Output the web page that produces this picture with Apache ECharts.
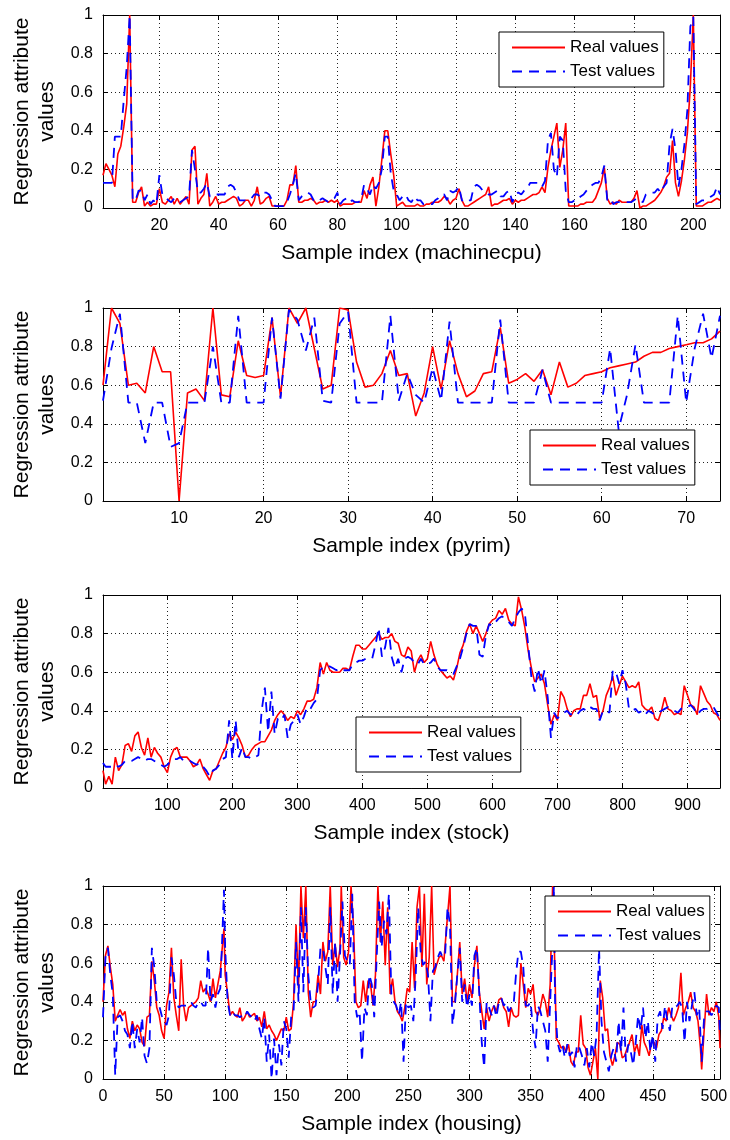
<!DOCTYPE html>
<html>
<head>
<meta charset="utf-8">
<script src="https://cdn.jsdelivr.net/npm/echarts@6/dist/echarts.min.js"></script>
<style>
html,body{margin:0;padding:0;background:#fff;}
#chart{width:730px;height:1140px;}
</style>
</head>
<body>
<div id="chart"></div>
<script>
// ---------- DATA ----------
const seriesNames = ['Real values', 'Test values'];
const panelTitles = ['Sample index (machinecpu)', 'Sample index (pyrim)', 'Sample index (stock)', 'Sample index (housing)'];
const yTitle = 'Regression attribute\nvalues';

// machinecpu (samples 1..209)
const machineReal = [
0.17,0.23,0.20,0.17,0.11,0.28,0.32,0.42,0.54,1.00,
0.03,0.03,0.08,0.11,0.01,0.03,0.01,0.02,0.02,0.10,
0.03,0.02,0.04,0.06,0.02,0.05,0.02,0.04,0.06,0.02,
0.30,0.32,0.02,0.05,0.07,0.18,0.01,0.03,0.06,0.02,
0.03,0.03,0.04,0.05,0.06,0.05,0.01,0.02,0.04,0.04,
0.01,0.04,0.11,0.02,0.03,0.05,0.06,0.01,0.01,0.01,
0.01,0.01,0.04,0.12,0.12,0.22,0.03,0.03,0.04,0.04,
0.05,0.04,0.02,0.03,0.03,0.04,0.03,0.04,0.03,0.04,
0.01,0.02,0.02,0.02,0.02,0.03,0.03,0.03,0.09,0.05,
0.12,0.16,0.01,0.11,0.25,0.40,0.40,0.28,0.17,0.01,
0.02,0.03,0.01,0.01,0.01,0.01,0.02,0.01,0.01,0.02,
0.02,0.03,0.03,0.03,0.04,0.06,0.05,0.02,0.04,0.05,
0.10,0.04,0.01,0.01,0.02,0.03,0.04,0.05,0.06,0.07,
0.11,0.01,0.02,0.02,0.03,0.04,0.04,0.05,0.02,0.04,
0.03,0.04,0.04,0.05,0.06,0.07,0.07,0.08,0.11,0.08,
0.21,0.30,0.37,0.44,0.21,0.30,0.44,0.01,0.01,0.01,
0.01,0.02,0.02,0.03,0.03,0.03,0.05,0.09,0.13,0.21,
0.05,0.02,0.03,0.02,0.04,0.03,0.03,0.03,0.03,0.05,
0.09,0.00,0.01,0.01,0.02,0.03,0.04,0.06,0.08,0.11,
0.16,0.18,0.35,0.13,0.06,0.14,0.25,0.39,0.63,1.00,
0.01,0.01,0.01,0.02,0.03,0.03,0.04,0.05,0.04
];
const machineTest = [
0.13,0.13,0.13,0.13,0.37,0.37,0.37,0.56,0.73,1.00,
0.04,0.04,0.09,0.09,0.04,0.07,0.02,0.04,0.02,0.17,
0.07,0.06,0.04,0.03,0.05,0.04,0.03,0.04,0.05,0.06,
0.30,0.20,0.08,0.08,0.10,0.13,0.06,0.07,0.07,0.07,
0.07,0.07,0.11,0.12,0.11,0.08,0.04,0.04,0.04,0.04,
0.05,0.07,0.07,0.06,0.08,0.08,0.07,0.04,0.01,0.01,
0.01,0.01,0.03,0.07,0.12,0.18,0.04,0.06,0.07,0.08,
0.07,0.04,0.03,0.04,0.05,0.04,0.03,0.04,0.05,0.08,
0.02,0.04,0.05,0.03,0.04,0.03,0.03,0.04,0.12,0.10,
0.07,0.12,0.10,0.13,0.20,0.37,0.37,0.18,0.09,0.07,
0.04,0.06,0.07,0.04,0.03,0.06,0.04,0.04,0.02,0.02,
0.02,0.02,0.04,0.05,0.07,0.07,0.04,0.09,0.08,0.09,
0.11,0.04,0.03,0.04,0.04,0.11,0.12,0.11,0.09,0.08,
0.07,0.07,0.08,0.09,0.06,0.06,0.08,0.09,0.03,0.07,
0.08,0.07,0.09,0.10,0.13,0.13,0.13,0.13,0.11,0.14,
0.35,0.39,0.20,0.16,0.37,0.35,0.09,0.03,0.03,0.04,
0.04,0.06,0.07,0.09,0.11,0.12,0.13,0.13,0.16,0.22,
0.04,0.05,0.02,0.03,0.03,0.03,0.03,0.03,0.03,0.04,
0.05,0.04,0.03,0.07,0.08,0.08,0.08,0.10,0.08,0.11,
0.13,0.33,0.41,0.30,0.11,0.20,0.33,0.51,0.94,0.99,
0.02,0.03,0.04,0.04,0.05,0.06,0.07,0.11,0.07
];

// pyrim (samples 1..74)
const pyrimReal = [
0.60,1.00,0.92,0.60,0.61,0.56,0.80,0.67,0.67,0.00,
0.56,0.58,0.52,1.00,0.55,0.54,0.83,0.65,0.64,0.65,
0.95,0.54,1.00,0.92,1.00,0.79,0.58,0.60,1.00,0.99,
0.72,0.59,0.60,0.66,0.78,0.65,0.66,0.44,0.56,0.80,
0.58,0.83,0.66,0.54,0.57,0.66,0.67,0.90,0.61,0.63,
0.66,0.62,0.68,0.55,0.72,0.59,0.61,0.65,0.66,0.67,
0.69,0.70,0.71,0.72,0.75,0.77,0.77,0.79,0.80,0.81,
0.82,0.82,0.84,0.88
];
const pyrimTest = [
0.52,0.79,0.97,0.51,0.51,0.30,0.51,0.51,0.28,0.30,
0.51,0.51,0.51,0.80,0.51,0.51,0.96,0.51,0.51,0.51,
0.95,0.53,0.99,0.94,0.78,0.95,0.52,0.51,0.92,0.98,
0.51,0.51,0.51,0.51,0.96,0.52,0.66,0.55,0.51,0.69,
0.52,0.93,0.51,0.51,0.51,0.51,0.51,0.94,0.51,0.51,
0.51,0.51,0.68,0.51,0.51,0.51,0.51,0.51,0.51,0.51,
0.79,0.37,0.55,0.81,0.51,0.51,0.51,0.51,0.96,0.51,
0.79,0.97,0.74,0.96
];

// stock (read at samples 1, 5, 10, ..., 950)
const stockReal = [
0.09,
0.02,0.06,0.02,0.16,0.09,0.12,0.22,0.23,0.19,0.27,
0.29,0.21,0.17,0.26,0.16,0.21,0.18,0.16,0.11,0.08,
0.16,0.20,0.21,0.16,0.16,0.16,0.14,0.11,0.12,0.15,
0.10,0.07,0.04,0.09,0.10,0.14,0.18,0.21,0.28,0.25,
0.29,0.26,0.22,0.16,0.17,0.20,0.22,0.23,0.24,0.24,
0.27,0.30,0.35,0.38,0.40,0.38,0.35,0.37,0.36,0.40,
0.38,0.41,0.45,0.45,0.46,0.52,0.65,0.59,0.65,0.61,
0.60,0.60,0.60,0.62,0.62,0.61,0.68,0.74,0.74,0.72,
0.72,0.74,0.76,0.78,0.80,0.77,0.78,0.78,0.80,0.76,
0.75,0.69,0.68,0.73,0.71,0.60,0.66,0.69,0.65,0.67,
0.76,0.69,0.64,0.61,0.59,0.57,0.58,0.56,0.62,0.70,
0.74,0.81,0.85,0.80,0.84,0.80,0.76,0.80,0.85,0.87,
0.88,0.92,0.90,0.93,0.87,0.85,0.84,0.99,0.92,0.83,
0.71,0.62,0.55,0.57,0.59,0.54,0.43,0.33,0.38,0.35,
0.50,0.47,0.41,0.37,0.40,0.41,0.41,0.48,0.48,0.54,
0.47,0.48,0.36,0.40,0.48,0.52,0.58,0.48,0.53,0.58,
0.55,0.52,0.53,0.52,0.55,0.43,0.41,0.40,0.42,0.36,
0.35,0.40,0.47,0.41,0.40,0.38,0.39,0.38,0.53,0.48,
0.43,0.42,0.38,0.53,0.49,0.45,0.43,0.39,0.38,0.35
];
const stockTest = [
0.13,
0.11,0.11,0.11,0.12,0.11,0.12,0.14,0.14,0.14,0.15,
0.16,0.15,0.14,0.15,0.15,0.14,0.13,0.12,0.11,0.12,
0.14,0.15,0.15,0.16,0.14,0.14,0.14,0.13,0.12,0.13,
0.11,0.09,0.06,0.09,0.10,0.12,0.15,0.16,0.35,0.15,
0.35,0.16,0.21,0.16,0.16,0.15,0.16,0.17,0.40,0.52,
0.29,0.50,0.28,0.36,0.35,0.38,0.26,0.33,0.35,0.38,
0.33,0.37,0.42,0.41,0.44,0.46,0.61,0.63,0.63,0.63,
0.62,0.61,0.62,0.61,0.61,0.61,0.64,0.65,0.66,0.66,
0.67,0.67,0.67,0.74,0.83,0.68,0.73,0.83,0.68,0.62,
0.67,0.60,0.67,0.68,0.67,0.65,0.64,0.67,0.64,0.64,
0.65,0.67,0.63,0.61,0.61,0.61,0.60,0.59,0.63,0.67,
0.73,0.80,0.85,0.84,0.84,0.69,0.68,0.79,0.85,0.84,
0.86,0.88,0.89,0.87,0.86,0.84,0.88,0.91,0.93,0.90,
0.74,0.57,0.50,0.62,0.54,0.61,0.47,0.26,0.39,0.36,
0.38,0.39,0.40,0.38,0.39,0.38,0.40,0.41,0.40,0.42,
0.41,0.41,0.35,0.40,0.40,0.39,0.61,0.60,0.54,0.61,
0.54,0.41,0.40,0.41,0.39,0.40,0.38,0.40,0.39,0.38,
0.39,0.40,0.41,0.42,0.41,0.40,0.39,0.41,0.42,0.42,
0.43,0.41,0.38,0.40,0.41,0.41,0.42,0.42,0.39,0.36
];

// housing (sample indices listed in housingRealX / housingTestX)
const housingReal = [
0.40,0.64,0.69,0.58,0.49,0.30,0.33,0.36,0.33,0.35,
0.26,0.21,0.30,0.25,0.28,0.26,0.19,0.17,0.32,0.33,
0.61,0.51,0.37,0.33,0.25,0.21,0.38,0.45,0.68,0.42,
0.33,0.25,0.62,0.38,0.30,0.37,0.38,0.39,0.40,0.42,
0.51,0.45,0.47,0.44,0.40,0.52,0.42,0.49,0.56,0.71,
0.78,
0.54,0.44,0.33,0.35,0.33,0.32,0.37,0.30,0.32,0.35,
0.32,0.33,0.34,0.30,0.32,0.27,0.35,0.26,0.28,0.25,
0.23,0.20,0.23,0.26,0.25,0.32,0.25,0.26,0.40,0.80,
0.47,1.00,0.73,1.00,0.45,0.32,0.40,
0.40,0.54,0.44,0.71,0.61,0.66,1.00,0.59,0.70,0.58,0.68,
1.00,0.63,0.59,0.66,1.00,0.80,0.40,0.37,0.38,0.51,
0.40,0.51,0.49,0.38,0.54,1.00,0.71,0.92,0.59,0.89,
0.44,0.52,0.40,0.35,0.33,0.30,0.37,0.47,0.45,0.71,
0.47,0.89,1.00,0.58,0.96,0.49,0.63,1.00,0.54,0.59,
0.63,0.64,0.61,0.77,0.92,
1.00,
0.40,0.40,0.54,0.71,0.44,0.52,0.40,0.49,0.42,0.59,
0.69,0.45,0.35,0.26,0.37,0.30,0.35,0.38,0.35,0.41,
0.42,0.37,0.35,0.27,0.37,0.33,0.32,0.33,
0.60,0.49,0.37,0.47,0.44,0.49,0.35,0.33,0.37,0.44,
0.40,0.32,0.49,1.00,0.54,
0.21,0.19,0.16,0.17,0.14,0.18,0.09,0.07,0.14,0.14,
0.33,0.18,0.16,0.06,0.02,0.09,0.16,0.00,0.51,0.42,
0.25,0.26,0.12,0.07,0.12,0.19,0.18,0.11,0.12,0.16,
0.19,0.23,0.14,0.18,0.12,0.28,0.19,0.16,0.12,0.19,
0.19,0.16,0.23,0.25,0.32,0.30,0.37,0.33,0.30,0.33,
0.37,0.55,0.33,0.37,0.40,0.45,0.37,0.35,0.30,0.16,
0.05,0.25,0.44,0.33,0.37,0.35,0.40,0.32,
0.16
];
const housingTest = [
0.32,0.63,0.68,0.54,0.44,0.02,0.32,0.33,0.30,0.25,
0.23,0.16,0.30,0.16,0.26,0.19,0.32,0.12,0.08,0.16,
0.68,0.58,0.40,0.38,0.33,0.30,0.28,0.33,0.63,0.54,
0.40,0.37,0.38,0.38,0.38,0.39,0.40,0.38,0.37,0.40,
0.40,0.38,0.38,0.68,0.40,0.44,0.37,0.44,0.47,0.80,
0.98,
0.68,0.40,0.33,0.35,0.33,0.33,0.32,0.33,0.32,0.35,
0.33,0.32,0.30,0.33,0.26,0.21,0.32,0.09,0.23,0.00,
0.21,0.02,0.18,0.07,0.30,0.26,0.11,0.32,0.35,0.71,
0.40,0.89,0.45,0.89,0.54,0.40,0.37,
0.38,0.49,0.68,0.68,0.58,0.49,0.89,0.44,0.71,0.40,
0.64,0.92,0.64,0.61,0.59,0.96,0.40,0.32,0.35,0.09,
0.37,0.33,0.54,0.49,0.32,0.63,0.92,0.68,0.82,0.75,
0.96,0.44,0.40,0.38,0.33,0.40,0.09,0.40,0.37,0.38,
0.30,0.54,0.89,0.66,0.59,0.61,0.54,0.30,0.56,0.58,
0.63,0.66,0.63,0.64,0.89,0.80,0.28,0.38,0.54,0.68,
0.40,0.49,0.37,0.44,0.38,0.64,0.68,0.44,0.19,0.06,
0.40,0.37,0.33,0.38,0.32,0.40,0.42,0.38,0.40,0.35,
0.37,0.38,0.54,0.66,
0.66,0.58,0.38,0.38,0.40,0.25,0.16,0.38,0.35,0.30,
0.25,0.09,0.40,0.71,
1.00,
0.40,0.19,0.14,0.18,0.11,0.18,0.12,0.14,0.06,0.18,
0.16,0.12,0.07,0.16,0.06,0.19,0.12,0.23,0.68,0.30,
0.14,0.09,0.04,0.12,0.16,0.09,0.30,0.14,0.37,0.09,
0.18,0.14,0.07,0.19,0.33,0.25,0.37,0.21,0.30,0.14,
0.23,0.09,0.32,0.35,0.26,0.38,0.30,0.25,0.38,0.37,
0.38,0.40,0.37,0.19,0.40,0.30,0.38,0.45,0.33,0.37,
0.09,0.32,0.35,0.35,0.33,0.35,0.38,0.37,
0.23
];

// sample-index lists (x positions of the values above)
function seq(a, b, s) { const r = []; for (let v = a; v <= b; v += s) r.push(v); return r; }
const machineX = seq(1, 209, 1);
const pyrimX = seq(1, 74, 1);
const stockX = [1].concat(seq(5, 950, 5));
const housingRealX = [].concat(seq(0, 98, 2), [99], seq(100, 194, 2), seq(195, 283, 2), [284],
  seq(286, 370, 2), seq(371, 489, 2), seq(490, 504, 2), [505]);
const housingTestX = [].concat(seq(0, 98, 2), [99], seq(100, 368, 2), [369], seq(370, 504, 2), [505]);

// ---------- LAYOUT ----------
const FONT = 'Arial, "Liberation Sans", Helvetica, sans-serif';
const panels = [
  { realX: machineX, real: machineReal, testX: machineX, test: machineTest, xMin: 1, xMax: 209, split: 10, showMin: false,
    top: 15, legendLeft: 499, legendTop: 32 },
  { realX: pyrimX, real: pyrimReal, testX: pyrimX, test: pyrimTest, xMin: 1, xMax: 74, split: 8, showMin: false,
    top: 308, legendLeft: 530, legendTop: 430 },
  { realX: stockX, real: stockReal, testX: stockX, test: stockTest, xMin: 1, xMax: 950, split: 10, showMin: false,
    top: 595, legendLeft: 356, legendTop: 717 },
  { realX: housingRealX, real: housingReal, testX: housingTestX, test: housingTest, xMin: 0, xMax: 505, split: 10, showMin: true,
    top: 886, legendLeft: 545, legendTop: 896 }
];

const grid = [], xAxis = [], yAxis = [], series = [], legend = [];
const axisLineStyle = { show: true, onZero: false, lineStyle: { color: '#000', width: 1 } };
const tickStyle = { show: true, inside: true, length: 5, lineStyle: { color: '#000', width: 1 } };
const dotted = { show: true, lineStyle: { color: '#222', width: 1, type: [1, 3] } };

panels.forEach((p, g) => {
  grid.push({ left: 103, top: p.top, width: 617, height: 193, containLabel: false, outerBoundsMode: 'none' });
  // main bottom x axis
  xAxis.push({
    type: 'value', gridIndex: g, position: 'bottom', min: p.xMin, max: p.xMax, splitNumber: p.split,
    axisLine: axisLineStyle, axisTick: tickStyle,
    axisLabel: { color: '#000', fontSize: 16, fontFamily: FONT, margin: 10, showMinLabel: p.showMin, showMaxLabel: false, hideOverlap: false },
    splitLine: dotted,
    name: panelTitles[g], nameLocation: 'middle', nameGap: 35,
    nameTextStyle: { color: '#000', fontSize: 21, fontFamily: FONT }
  });
  // mirrored top x axis
  xAxis.push({
    type: 'value', gridIndex: g, position: 'top', min: p.xMin, max: p.xMax, splitNumber: p.split,
    axisLine: axisLineStyle, axisTick: tickStyle, axisLabel: { show: false }, splitLine: { show: false }
  });
  // main left y axis
  yAxis.push({
    type: 'value', gridIndex: g, position: 'left', min: 0, max: 1, interval: 0.2,
    axisLine: axisLineStyle, axisTick: tickStyle,
    axisLabel: { color: '#000', fontSize: 16, fontFamily: FONT, margin: 10 },
    splitLine: dotted,
    name: yTitle, nameLocation: 'middle', nameGap: 41,
    nameTextStyle: { color: '#000', fontSize: 21, lineHeight: 25, fontFamily: FONT, align: 'center' }
  });
  // mirrored right y axis
  yAxis.push({
    type: 'value', gridIndex: g, position: 'right', min: 0, max: 1, interval: 0.2,
    axisLine: axisLineStyle, axisTick: tickStyle, axisLabel: { show: false }, splitLine: { show: false }
  });

  series.push({
    name: seriesNames[0], type: 'line', xAxisIndex: 2 * g, yAxisIndex: 2 * g,
    data: p.realX.map((x, k) => [x, p.real[k]]),
    symbol: 'none', showSymbol: false, silent: true, animation: false, z: 2,
    lineStyle: { color: '#ff0000', width: 1.6, type: 'solid' },
    itemStyle: { color: '#ff0000' }
  });
  series.push({
    name: seriesNames[1], type: 'line', xAxisIndex: 2 * g, yAxisIndex: 2 * g,
    data: p.testX.map((x, k) => [x, p.test[k]]),
    symbol: 'none', showSymbol: false, silent: true, animation: false, z: 3,
    lineStyle: { color: '#0000ff', width: 1.8, type: [10, 7] },
    itemStyle: { color: '#0000ff' }
  });

  legend.push({
    show: true, data: seriesNames, orient: 'vertical', left: p.legendLeft, top: p.legendTop,
    padding: [7, 5, 7, 12], itemGap: 7, itemWidth: 53, itemHeight: 17,
    borderColor: '#000', borderWidth: 1, backgroundColor: '#fff', selectedMode: false, z: 10,
    itemStyle: { opacity: 0 },
    textStyle: { color: '#000', fontSize: 17, fontFamily: FONT }
  });
});

const chart = echarts.init(document.getElementById('chart'), null, { renderer: 'canvas' });
chart.setOption({
  animation: false,
  backgroundColor: '#fff',
  textStyle: { fontFamily: FONT },
  grid, xAxis, yAxis, series, legend
});
</script>
</body>
</html>
